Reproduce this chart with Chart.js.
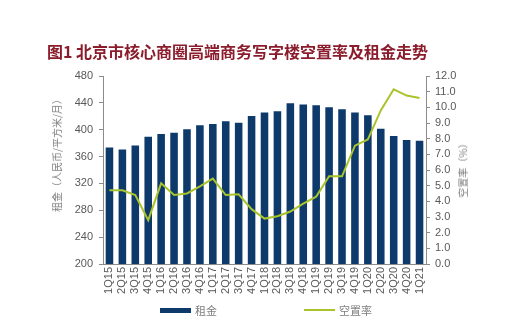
<!DOCTYPE html>
<html lang="zh-CN">
<head>
<meta charset="utf-8">
<script src="https://cdn.jsdelivr.net/npm/chart.js@4.4.1/dist/chart.umd.min.js"></script>
<style>
  html, body { margin: 0; padding: 0; background: #fff; }
  #wrap {
    position: relative; width: 526px; height: 322px; overflow: hidden;
    font-family: "Liberation Sans", Arial, "Noto Sans CJK SC", sans-serif;
  }
  #chart { position: absolute; left: 0; top: 0; }
  #title {
    position: absolute; left: 47px; top: 43px;
    font: bold 16px/16px "Noto Sans CJK SC", sans-serif;
    color: #8b1c2c; white-space: nowrap;
  }
  .axis-title {
    position: absolute; white-space: nowrap; color: #7f7f7f;
    font: 10px/10px "Noto Sans CJK SC", sans-serif;
    transform: translate(-50%, -50%) rotate(-90deg);
  }
  #legend { position: absolute; left: 0; top: 303px; width: 526px; height: 14px; }
  .lg-item { position: absolute; top: 0; height: 14px; display: flex; align-items: center; }
  .lg-swatch { display: inline-block; width: 31px; margin-right: 4px; }
  .lg-text { font: 11px "Noto Sans CJK SC", sans-serif; color: #7f7f7f; }
</style>
</head>
<body>
<div id="wrap">
  <canvas id="chart" width="526" height="322"></canvas>
  <div id="title">图1 北京市核心商圈高端商务写字楼空置率及租金走势</div>
  <div class="axis-title" style="left:57px; top:153px;">租金（人民币/平方米/月）</div>
  <div class="axis-title" style="left:463px; top:168px;">空置率（%）</div>
  <div id="legend"></div>
</div>
<script>
// quarters 1Q15 .. 1Q21
const quarters = [
  '1Q15', '2Q15', '3Q15', '4Q15',
  '1Q16', '2Q16', '3Q16', '4Q16',
  '1Q17', '2Q17', '3Q17', '4Q17',
  '1Q18', '2Q18', '3Q18', '4Q18',
  '1Q19', '2Q19', '3Q19', '4Q19',
  '1Q20', '2Q20', '3Q20', '4Q20',
  '1Q21'
];

// rent, RMB / sqm / month (left axis)
const rent = [
  375, 372, 378, 391,
  395, 397, 402, 408,
  410, 414, 412, 422,
  427, 429, 441, 439,
  438, 435, 432, 427,
  423, 403, 392, 386,
  385
];

// vacancy rate, % (right axis)
const vacancy = [
  4.70, 4.70, 4.40, 2.80,
  5.15, 4.40, 4.50, 4.95,
  5.45, 4.40, 4.45, 3.50,
  2.90, 3.05, 3.35, 3.85,
  4.30, 5.60, 5.60, 7.55,
  7.95, 9.80, 11.15, 10.75,
  10.60
];

const seriesNames = ['租金', '空置率'];
const NAVY = '#0d3a6b';
const LIME = '#a9c42a';
const TICK_GREY = '#595959';
const AXIS_GREY = '#8c8c8c';

const tickFont = { family: "'Liberation Sans', Arial, sans-serif", size: 11 };

new Chart(document.getElementById('chart'), {
  data: {
    labels: quarters,
    datasets: [
      {
        type: 'line',
        label: seriesNames[1],
        data: vacancy,
        yAxisID: 'y1',
        borderColor: LIME,
        borderWidth: 2,
        pointRadius: 0,
        tension: 0,
        order: 0
      },
      {
        type: 'bar',
        label: seriesNames[0],
        data: rent,
        yAxisID: 'y',
        backgroundColor: NAVY,
        borderColor: 'rgba(255,255,255,0.35)',
        borderWidth: 1,
        barPercentage: 0.74,
        categoryPercentage: 1,
        order: 1
      }
    ]
  },
  options: {
    responsive: false,
    animation: false,
    layout: { padding: { left: 40, right: 40, top: 76, bottom: 17 } },
    plugins: {
      legend: { display: false },
      tooltip: { enabled: false }
    },
    scales: {
      x: {
        grid: { display: false, drawTicks: false },
        border: { display: true, color: AXIS_GREY, width: 1 },
        ticks: {
          color: TICK_GREY, font: tickFont, padding: 3,
          minRotation: 90, maxRotation: 90, autoSkip: false
        },
        afterFit: s => { s.height = 41; }
      },
      y: {
        position: 'left',
        min: 200, max: 480,
        grid: { drawOnChartArea: false, drawTicks: true, tickLength: 4, color: AXIS_GREY },
        border: { display: true, color: AXIS_GREY, width: 1 },
        ticks: { stepSize: 40, autoSkip: false, color: TICK_GREY, font: tickFont, padding: 6 },
        afterFit: s => { s.width = 63; }
      },
      y1: {
        position: 'right',
        min: 0, max: 12,
        grid: { drawOnChartArea: false, drawTicks: true, tickLength: 4, color: AXIS_GREY },
        border: { display: true, color: AXIS_GREY, width: 1 },
        ticks: {
          stepSize: 1, autoSkip: false, color: TICK_GREY, font: tickFont, padding: 5,
          callback: v => v.toFixed(1)
        },
        afterFit: s => { s.width = 60; }
      }
    }
  }
});

// legend row under the axis
const legend = document.getElementById('legend');
[
  { text: seriesNames[0], color: NAVY, h: 5, left: 160 },
  { text: seriesNames[1], color: LIME, h: 2, left: 304 }
].forEach(it => {
  const item = document.createElement('div');
  item.className = 'lg-item';
  item.style.left = it.left + 'px';
  const sw = document.createElement('span');
  sw.className = 'lg-swatch';
  sw.style.height = it.h + 'px';
  sw.style.background = it.color;
  const tx = document.createElement('span');
  tx.className = 'lg-text';
  tx.textContent = it.text;
  item.appendChild(sw);
  item.appendChild(tx);
  legend.appendChild(item);
});
</script>
</body>
</html>
